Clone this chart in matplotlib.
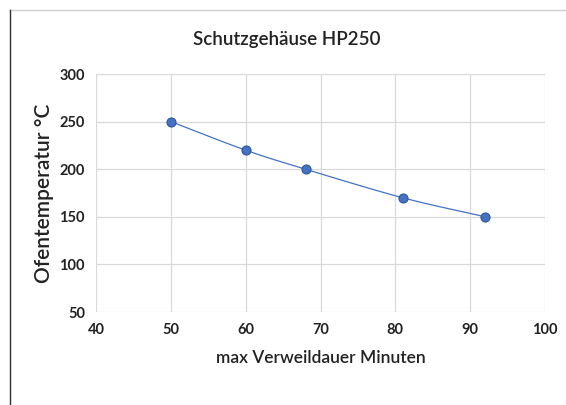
import numpy as np
import matplotlib.pyplot as plt
from matplotlib.lines import Line2D

# data
verweildauer = [50, 60, 68, 81, 92]
temperatur = [250, 220, 200, 170, 150]
x_ticks = [40, 50, 60, 70, 80, 90, 100]
y_ticks = [50, 100, 150, 200, 250, 300]


def smooth(x, y, n=30):
    # Catmull-Rom curve through the points, like Excel's smoothed line
    x = np.asarray(x, float)
    y = np.asarray(y, float)
    px = np.concatenate([[2 * x[0] - x[1]], x, [2 * x[-1] - x[-2]]])
    py = np.concatenate([[2 * y[0] - y[1]], y, [2 * y[-1] - y[-2]]])
    xs, ys = [], []
    t = np.linspace(0, 1, n)
    for i in range(1, len(px) - 2):
        for p, out in ((px, xs), (py, ys)):
            p0, p1, p2, p3 = p[i - 1], p[i], p[i + 1], p[i + 2]
            out.extend(0.5 * (2 * p1 + (-p0 + p2) * t
                              + (2 * p0 - 5 * p1 + 4 * p2 - p3) * t ** 2
                              + (-p0 + 3 * p1 - 3 * p2 + p3) * t ** 3))
    return xs, ys


plt.rcParams['font.family'] = ['Lato', 'DejaVu Sans']

fig = plt.figure(figsize=(5.66, 4.05), dpi=100)
ax = fig.add_axes([96 / 566, 1 - 312 / 405, 449 / 566, 238 / 405])

sx, sy = smooth(verweildauer, temperatur)
ax.plot(sx, sy, color='#4472C4', lw=0.9, zorder=3)
ax.plot(verweildauer, temperatur, 'o', ms=6.5, mfc='#4472C4', mec='#2F5597',
        mew=0.8, zorder=4)

ax.set_xlim(40, 100)
ax.set_ylim(50, 300)
ax.set_xticks(x_ticks)
ax.set_yticks(y_ticks)
ax.grid(True, color='#d9d9d9', lw=0.9)
ax.set_axisbelow(True)
for s in ax.spines.values():
    s.set_visible(False)
ax.tick_params(length=0, labelsize=10.5, pad=8, labelcolor='#222222')
for lab in ax.get_xticklabels() + ax.get_yticklabels():
    lab.set_fontweight('bold')

ax.set_xlabel('max Verweildauer Minuten', fontsize=12.5, labelpad=9,
              fontweight='semibold', color='#222222')
ax.set_ylabel('Ofentemperatur °C', fontsize=15, labelpad=4,
              fontweight='semibold', color='#222222')
fig.text(0.506, 1 - 40 / 405, 'Schutzgehäuse HP250', ha='center', va='center',
         fontsize=13.5, fontweight='semibold', color='#222222')

# chart frame (cropped)
fig.add_artist(Line2D([10 / 566, 1], [1 - 10 / 405] * 2, color='#d0d0d0', lw=1))
fig.add_artist(Line2D([10 / 566] * 2, [0, 1 - 10 / 405], color='#303030', lw=1))

fig.savefig('out.png', dpi=100)
